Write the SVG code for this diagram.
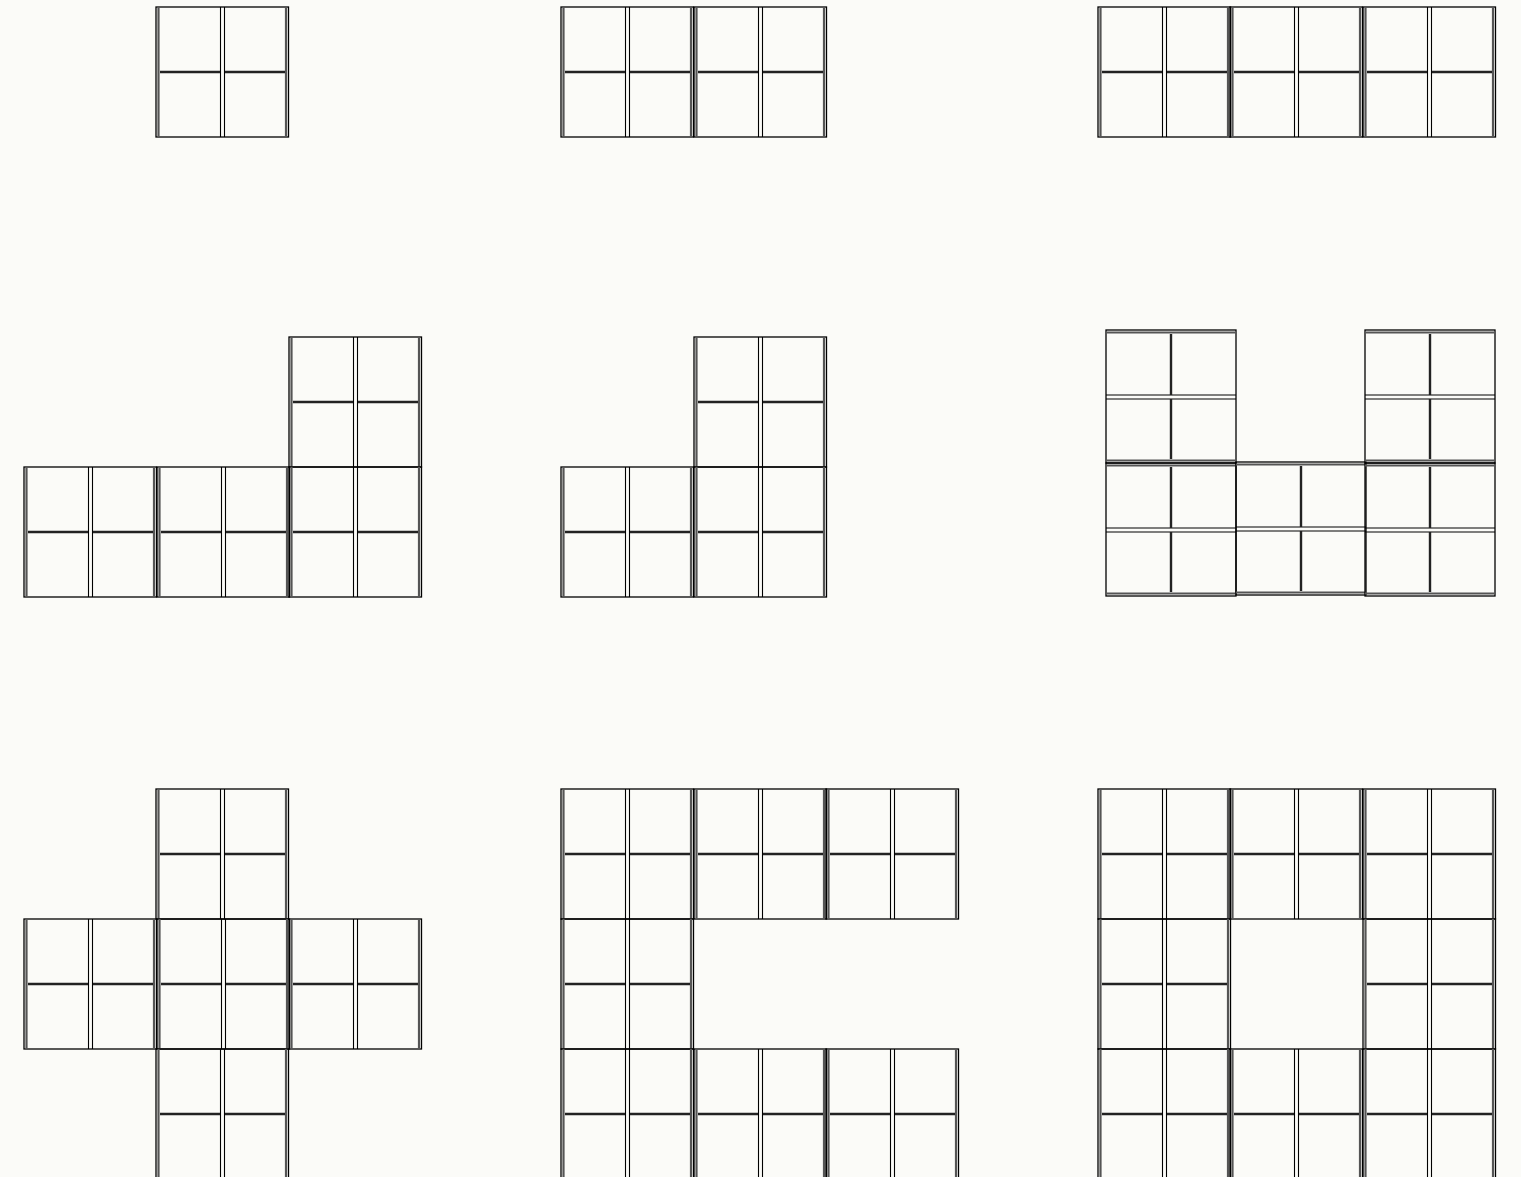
<svg xmlns="http://www.w3.org/2000/svg" xmlns:xlink="http://www.w3.org/1999/xlink" width="1521" height="1177" viewBox="0 0 1521 1177">
<style>
.o{fill:none;stroke:#000;stroke-width:1.3}
.g{stroke:#555;stroke-width:2.2}
.d{stroke:#000;stroke-width:1.1}
.m{stroke:#222;stroke-width:2.4}
</style>
<defs>
<g id="blk">
<rect class="o" x="0" y="0" width="132.5" height="130"/>
<line class="g" x1="2.5" y1="0" x2="2.5" y2="130"/>
<line class="g" x1="130" y1="0" x2="130" y2="130"/>
<line class="d" x1="64.5" y1="0" x2="64.5" y2="130"/>
<line class="d" x1="68.5" y1="0" x2="68.5" y2="130"/>
<line class="m" x1="4" y1="65" x2="64" y2="65"/>
<line class="m" x1="69" y1="65" x2="129" y2="65"/>
</g>
<g id="blkh">
<rect class="o" x="0" y="0" width="130" height="133"/>
<line class="g" x1="0" y1="2.5" x2="130" y2="2.5"/>
<line class="g" x1="0" y1="130.5" x2="130" y2="130.5"/>
<line class="d" x1="0" y1="65" x2="130" y2="65"/>
<line class="d" x1="0" y1="69" x2="130" y2="69"/>
<line class="m" x1="65" y1="4" x2="65" y2="65"/>
<line class="m" x1="65" y1="69" x2="65" y2="129"/>
</g>
</defs>
<rect x="0" y="0" width="1521" height="1177" fill="#fbfbf8"/>
<g id="shape1"><use xlink:href="#blk" x="156" y="7"/></g>
<g id="shape2"><use xlink:href="#blk" x="561" y="7"/><use xlink:href="#blk" x="694" y="7"/></g>
<g id="shape3"><use xlink:href="#blk" x="1098" y="7"/><use xlink:href="#blk" x="1230" y="7"/><use xlink:href="#blk" x="1363" y="7"/></g>
<g id="shape4"><use xlink:href="#blk" x="289" y="337"/><use xlink:href="#blk" x="24" y="467"/><use xlink:href="#blk" x="157" y="467"/><use xlink:href="#blk" x="289" y="467"/></g>
<g id="shape5"><use xlink:href="#blk" x="694" y="337"/><use xlink:href="#blk" x="561" y="467"/><use xlink:href="#blk" x="694" y="467"/></g>
<g id="shape6"><use xlink:href="#blkh" x="1106" y="330"/><use xlink:href="#blkh" x="1106" y="463"/><use xlink:href="#blkh" x="1236" y="462"/><use xlink:href="#blkh" x="1365" y="330"/><use xlink:href="#blkh" x="1365" y="463"/></g>
<g id="shape7"><use xlink:href="#blk" x="156" y="789"/><use xlink:href="#blk" x="24" y="919"/><use xlink:href="#blk" x="157" y="919"/><use xlink:href="#blk" x="289" y="919"/><use xlink:href="#blk" x="156" y="1049"/></g>
<g id="shape8"><use xlink:href="#blk" x="561" y="789"/><use xlink:href="#blk" x="694" y="789"/><use xlink:href="#blk" x="826" y="789"/><use xlink:href="#blk" x="561" y="919"/><use xlink:href="#blk" x="561" y="1049"/><use xlink:href="#blk" x="694" y="1049"/><use xlink:href="#blk" x="826" y="1049"/></g>
<g id="shape9"><use xlink:href="#blk" x="1098" y="789"/><use xlink:href="#blk" x="1230" y="789"/><use xlink:href="#blk" x="1363" y="789"/><use xlink:href="#blk" x="1098" y="919"/><use xlink:href="#blk" x="1363" y="919"/><use xlink:href="#blk" x="1098" y="1049"/><use xlink:href="#blk" x="1230" y="1049"/><use xlink:href="#blk" x="1363" y="1049"/></g>
<g id="connectors"/>
</svg>
